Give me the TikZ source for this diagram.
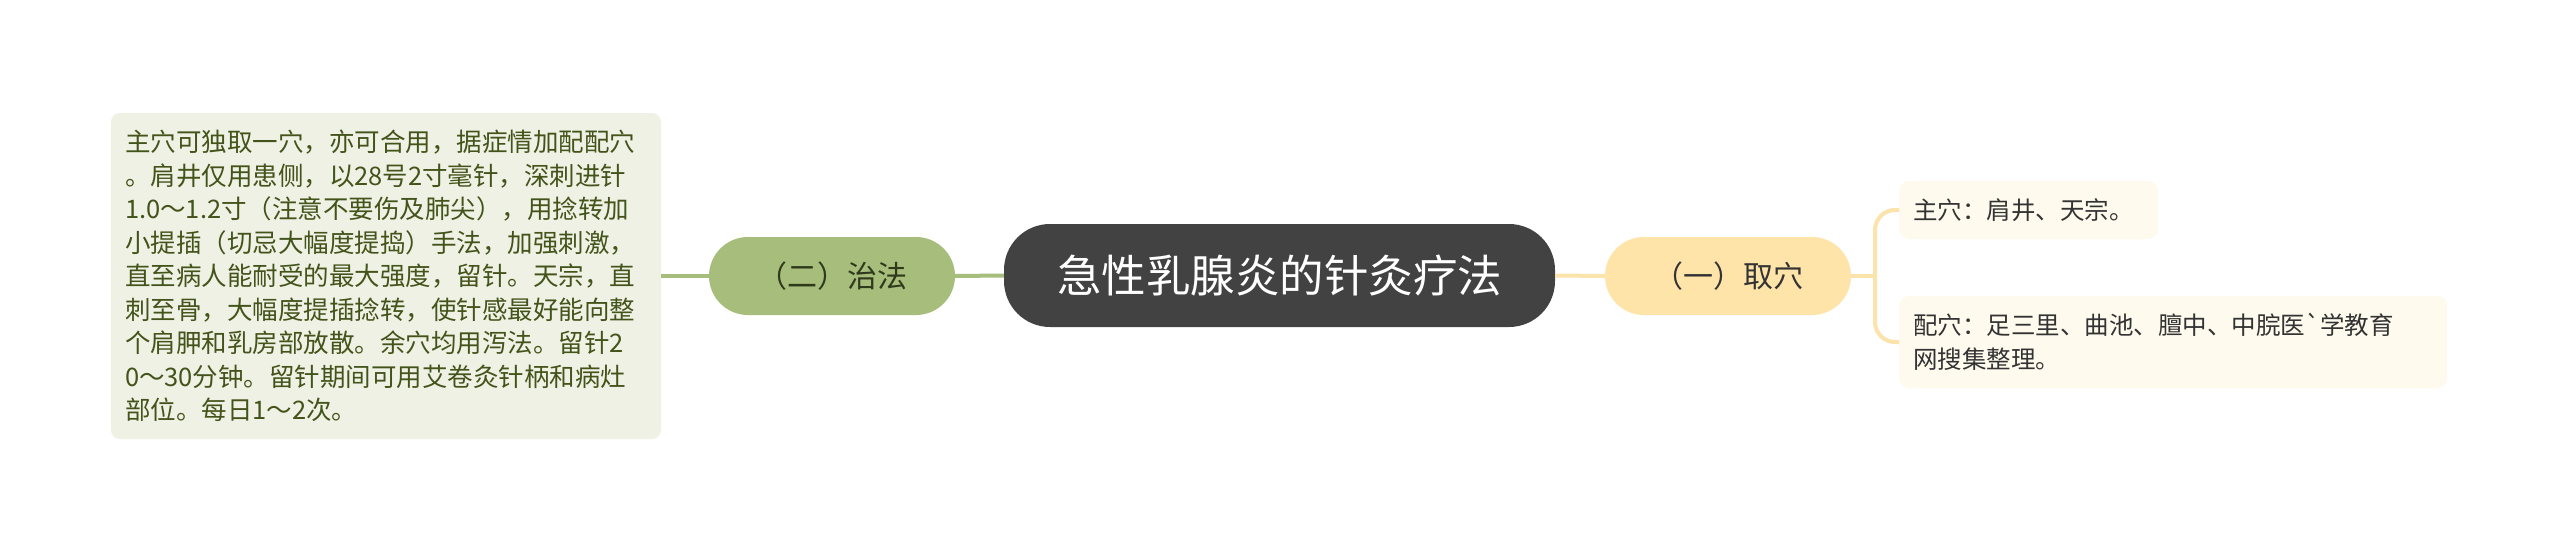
\documentclass[tikz,border=0pt]{standalone}
\usepackage{fontspec}
\setmainfont{Noto Sans CJK SC}[Ligatures=TeXOff]
\definecolor{detfill}{HTML}{EEF1E4}
\definecolor{dettext}{HTML}{43531A}
\definecolor{green}{HTML}{A6BD7B}
\definecolor{greentext}{HTML}{2F3A1C}
\definecolor{rootfill}{HTML}{424242}
\definecolor{yel}{HTML}{FFE4AA}
\definecolor{yelline}{HTML}{FBE3AC}
\definecolor{leaffill}{HTML}{FEFAEE}
\definecolor{leaftext}{HTML}{333333}
\begin{document}
\begin{tikzpicture}[x=1pt,y=-1pt,
  detail/.style={fill=detfill, text=dettext, rounded corners=9pt, inner xsep=14pt, inner ysep=0pt,
    text width=522pt, align=left, minimum height=326pt, font=\fontsize{25.5}{33.5}\selectfont},
  rootbox/.style={fill=rootfill, text=white, rounded corners=46pt, inner sep=0pt,
    minimum width=551pt, minimum height=103pt, font=\fontsize{44.5}{50}\selectfont},
  branchG/.style={fill=green, text=greentext, rounded corners=39pt, inner sep=0pt,
    minimum width=246pt, minimum height=78pt, font=\fontsize{30}{36}\selectfont},
  branchY/.style={fill=yel, text=leaftext, rounded corners=39pt, inner sep=0pt,
    minimum width=246pt, minimum height=78pt, font=\fontsize{30}{36}\selectfont},
  leafbox/.style={fill=leaffill, text=leaftext, rounded corners=10pt, inner xsep=14pt, inner ysep=0pt,
    align=left, font=\fontsize{24.5}{34}\selectfont},
  lineG/.style={draw=green, line width=4pt},
  lineY/.style={draw=yelline, line width=4pt},
]
\useasboundingbox[fill=white] (0,0) rectangle (2560,552);

\node[detail] (det) at (386,276) {主穴可独取一穴，亦可合用，据症情加配配穴\\
。肩井仅用患侧，以28号2寸毫针，深刺进针\\
1.0～1.2寸（注意不要伤及肺尖），用捻转加\\
小提插（切忌大幅度提捣）手法，加强刺激，\\
直至病人能耐受的最大强度，留针。天宗，直\\
刺至骨，大幅度提插捻转，使针感最好能向整\\
个肩胛和乳房部放散。余穴均用泻法。留针2\\
0～30分钟。留针期间可用艾卷灸针柄和病灶\\
部位。每日1～2次。};

\node[branchG] (zf) at (832,276) {（二）治法};
\node[rootbox] (root) at (1279.5,275.5) {急性乳腺炎的针灸疗法};
\node[branchY] (qx) at (1728,276) {（一）取穴};

\node[leafbox, anchor=west, text width=231pt, minimum height=58pt] (l1) at (1899,210) {主穴：肩井、天宗。};
\node[leafbox, anchor=west, text width=520pt, minimum height=92pt] (l2) at (1899,342) {配穴：足三里、曲池、膻中、中脘医`学教育\\网搜集整理。};

\coordinate (jn) at (1875,276);

\draw[lineG] (det.east) -- (zf.west);
\draw[lineG] (zf.east) -- (root.west);
\draw[lineY] (root.east) -- (qx.west);
\draw[lineY] (qx.east) -- (jn);
\draw[lineY, rounded corners=20pt] (l1.west) -| (jn) |- (l2.west);
\end{tikzpicture}
\end{document}
